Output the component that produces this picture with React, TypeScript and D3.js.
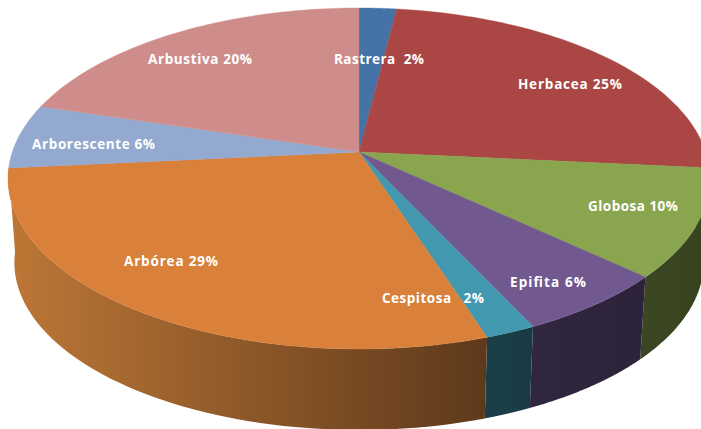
import React from "react";
import * as d3 from "d3";

// Data (clockwise from 12 o'clock)
const categories = ["Rastrera", "Herbacea", "Globosa", "Epifita", "Cespitosa", "Arbórea", "Arborescente", "Arbustiva"];
const shares = [2.0, 24.5, 10.25, 6.15, 2.0, 28.6, 6.1, 20.4];
const labelPercents = ["2%", "25%", "10%", "6%", "2%", "29%", "6%", "20%"];
const labelGaps = ["  ", " ", " ", " ", "   ", " ", " ", " "];

// Styles
const topColors = ["#4572a7", "#aa4643", "#89a54e", "#71588f", "#4198af", "#d9803a", "#93a9cf", "#ce8d8b"];
const wallLeft = ["#2a4464", "#662a28", "#3b4622", "#30263d", "#1b3f49", "#bd7736", "#58657c", "#7c5453"];
const wallRight = ["#2a4464", "#662a28", "#38421f", "#2c2239", "#193a44", "#5d391b", "#58657c", "#7c5453"];

// Layout
const W = 701, H = 429;
const CX = 359, CY = 152, A = 346.7, B = 166.4, K = 0.1554;
const BOTTOM_CY = 236.5, BOTTOM_S = 0.982;
const WALL_MIN = 1.5;
const WALL_SLICES = [1, 2, 3, 4, 5];
const labelBoxes: [number, number, number][] = [
  [334, 424, 64], [518, 622, 89], [588, 678, 211], [510, 586, 287],
  [382, 484, 303], [124, 218, 266], [32, 155, 149], [148, 252, 64],
];

type P = [number, number];
const project = (t: number, cy = CY, s = 1): P => {
  const u = Math.sin(t), v = Math.cos(t), w = 1 + K * v;
  return [CX + (s * A * u) / w, cy - (s * B * v) / w];
};
const samples = (a: number, b: number) => d3.range(0, 61).map((i) => a + ((b - a) * i) / 60);
const line = d3.line<P>().x((d) => d[0]).y((d) => d[1]);

export default function App() {
  const arcs = d3.pie<number>().sort(null).startAngle(0).endAngle(2 * Math.PI)(shares);
  return (
    <svg width={W} height={H} viewBox={`0 0 ${W} ${H}`}
      style={{ position: "absolute", left: 0, top: 0, background: "#fff", overflow: "hidden" }}>
      <defs>
        {WALL_SLICES.map((i) => {
          const d = arcs[i];
          const xs = [project(Math.max(d.startAngle, WALL_MIN))[0], project(d.endAngle)[0]];
          return (
            <linearGradient key={i} id={`wall${i}`} gradientUnits="userSpaceOnUse"
              x1={d3.min(xs)} x2={d3.max(xs)} y1={0} y2={0}>
              <stop offset="0" stopColor={wallLeft[i]} />
              <stop offset="1" stopColor={wallRight[i]} />
            </linearGradient>
          );
        })}
      </defs>
      {WALL_SLICES.map((i) => {
        const d = arcs[i];
        const ts = samples(Math.max(d.startAngle, WALL_MIN), d.endAngle);
        const pts = [
          ...ts.map((t) => project(t)),
          ...ts.slice().reverse().map((t) => project(t, BOTTOM_CY, BOTTOM_S)),
        ];
        return <path key={i} d={line(pts) + "Z"} fill={`url(#wall${i})`} />;
      })}
      {arcs.map((d, i) => {
        const pts: P[] = [[CX, CY], ...samples(d.startAngle, d.endAngle).map((t) => project(t))];
        return <path key={i} d={line(pts) + "Z"} fill={topColors[i]} stroke={topColors[i]} strokeWidth={0.4} />;
      })}
      {categories.map((c, i) => {
        const [x0, x1, y] = labelBoxes[i];
        return (
          <text key={c} x={x0} y={y} textLength={x1 - x0} lengthAdjust="spacing" fill="#fff"
            fontFamily="'Open Sans', 'DejaVu Sans', sans-serif" fontWeight={700} fontSize={13.5}
            style={{ whiteSpace: "pre" }}>
            {`${c}${labelGaps[i]}${labelPercents[i]}`}
          </text>
        );
      })}
    </svg>
  );
}
